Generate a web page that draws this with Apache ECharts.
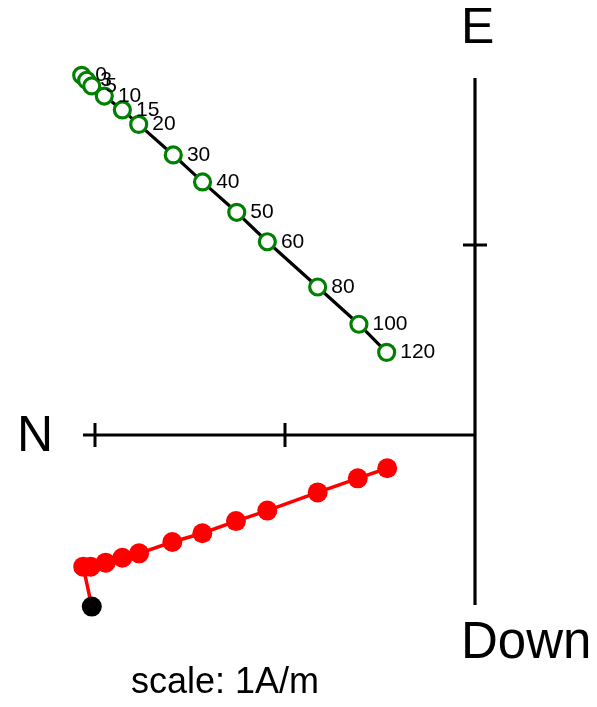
<!DOCTYPE html>
<html>
<head>
<meta charset="utf-8">
<script src="https://cdn.jsdelivr.net/npm/echarts@6/dist/echarts.min.js"></script>
<style>html,body{margin:0;padding:0;background:#fff;}#c{width:597px;height:707px;}</style>
</head>
<body>
<div id="c"></div>
<script>
// Demagnetization steps (labels of horizontal-projection points)
const steps = ['0','3','5','10','15','20','30','40','50','60','80','100','120'];
// Horizontal projection (N, E) in A/m
const horizN = [2.070,2.044,2.017,1.951,1.856,1.770,1.588,1.434,1.254,1.093,0.828,0.611,0.465];
const horizE = [1.893,1.867,1.837,1.784,1.711,1.635,1.474,1.332,1.172,1.017,0.779,0.583,0.435];
// Vertical projection (N, Down) in A/m; first point is the black one
const vertN = [2.017,2.062,2.023,1.944,1.856,1.768,1.593,1.435,1.258,1.093,0.828,0.617,0.462];
const vertDown = [0.903,0.693,0.693,0.672,0.646,0.623,0.563,0.517,0.453,0.398,0.302,0.228,0.175];
// Axis extents (A/m)
const axisNmax = 2.063;
const axisEmax = 1.879;
const axisDownMax = 0.895;
const nTicks = [1, 2];
const eTicks = [1];
const axisLabels = ['N', 'E', 'Down'];
const scaleText = 'scale: 1A/m';

const PX = 190; // pixels per A/m
const tickHalf = 12 / PX;
const FONT = '"Liberation Sans", Arial, Helvetica, sans-serif';

const chart = echarts.init(document.getElementById('c'), null, {renderer: 'canvas'});

const lineStyleBlack = {color: '#000', width: 3.2};
const series = [];
function seg(pts, style) {
  series.push({type: 'line', data: pts, showSymbol: false, symbol: 'none', silent: true,
    lineStyle: style, z: 1, animation: false});
}
// axes
seg([[axisNmax, 0], [0, 0]], lineStyleBlack);
seg([[0, axisEmax], [0, -axisDownMax]], lineStyleBlack);
nTicks.forEach(t => seg([[t, tickHalf], [t, -tickHalf]], {color: '#000', width: 3}));
eTicks.forEach(t => seg([[tickHalf, t], [-tickHalf, t]], {color: '#000', width: 3}));

// vertical projection (red)
series.push({
  type: 'line', animation: false, z: 3,
  data: vertN.map((n, i) => ({value: [n, -vertDown[i]],
    itemStyle: i === 0 ? {color: '#000'} : {color: '#ff0000'}})),
  symbol: 'circle', symbolSize: 20, showAllSymbol: true,
  lineStyle: {color: '#ff0000', width: 3.5},
  itemStyle: {color: '#ff0000'}
});
// horizontal projection (green open circles, black line)
series.push({
  type: 'line', animation: false, z: 4,
  data: horizN.map((n, i) => ({value: [n, horizE[i]], name: steps[i]})),
  symbol: 'circle', symbolSize: 16, showAllSymbol: true,
  lineStyle: {color: '#000', width: 3.2},
  itemStyle: {color: '#fff', borderColor: '#008000', borderWidth: 3.2},
  label: {show: true, position: 'right', distance: 4, formatter: p => p.name,
    color: '#000', fontSize: 21, fontFamily: FONT}
});

const xMax = 475 / PX, xMin = -(597 - 475) / PX;
const yMax = 435 / PX, yMin = -(707 - 435) / PX;

chart.setOption({
  animation: false,
  backgroundColor: '#fff',
  grid: {left: 0, right: 0, top: 0, bottom: 0, containLabel: false},
  xAxis: {type: 'value', min: xMin, max: xMax, inverse: true, show: false},
  yAxis: {type: 'value', min: yMin, max: yMax, show: false},
  series: series,
  graphic: [
    {type: 'text', left: 17, top: 412, style: {text: axisLabels[0], fontSize: 50, fontFamily: FONT, fill: '#000'}},
    {type: 'text', left: 461, top: 4, style: {text: axisLabels[1], fontSize: 50, fontFamily: FONT, fill: '#000'}},
    {type: 'text', left: 461, top: 618, style: {text: axisLabels[2], fontSize: 51, fontFamily: FONT, fill: '#000'}},
    {type: 'text', left: 131, top: 665, style: {text: scaleText, fontSize: 36, fontFamily: FONT, fill: '#000'}}
  ]
});
</script>
</body>
</html>
